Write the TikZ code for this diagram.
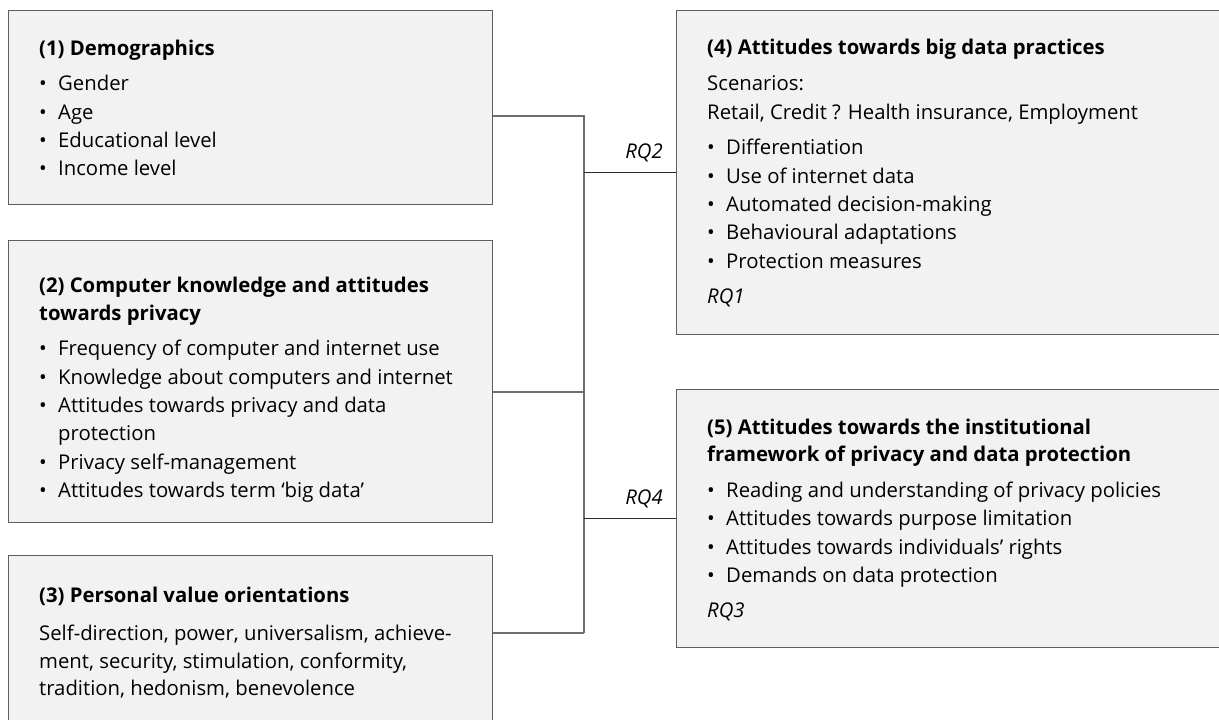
\documentclass[tikz,border=0pt]{standalone}
\usepackage{fontspec}
\setmainfont{Open Sans}
\definecolor{boxfill}{HTML}{F2F2F2}
\definecolor{boxline}{HTML}{5E5E5E}
\definecolor{conline}{HTML}{6E6E6E}
\definecolor{rqline}{HTML}{2A2A2A}
\tikzset{
  box/.style={draw=boxline, fill=boxfill, line width=1.3pt, inner sep=0pt, anchor=north west},
  txt/.style={anchor=base west, inner sep=0pt, font=\fontsize{20.3}{24}\selectfont},
  hdr/.style={txt, font=\fontsize{20.3}{24}\selectfont\bfseries},
  rq/.style={txt, font=\fontsize{20.3}{24}\selectfont\itshape},
  con/.style={draw=conline, line width=1.4pt},
  rqcon/.style={draw=rqline, line width=1pt},
}
\newcommand\bul[4]{% name, x, y, text
  \node[txt] (#1b) at (#2,#3) {•};
  \node[txt] (#1) at (#2+19,#3) {#4};}
\begin{document}
\begin{tikzpicture}[x=1pt,y=-1pt]
\useasboundingbox (0,0) rectangle (1219,720);
% boxes
\node[box, minimum width=484pt, minimum height=194pt] (b1) at (8,10) {};
\node[box, minimum width=484pt, minimum height=282pt] (b2) at (8,240) {};
\node[box, minimum width=484pt, minimum height=200pt] (b3) at (8,555) {};
\node[box, minimum width=600pt, minimum height=324pt] (b4) at (676,10) {};
\node[box, minimum width=600pt, minimum height=258pt] (b5) at (676,389) {};
% box 1
\node[hdr] (h1) at (39,55) {(1) Demographics};
\bul{a1}{39}{90}{Gender}
\bul{a2}{39}{119}{Age}
\bul{a3}{39}{147}{Educational level}
\bul{a4}{39}{175}{Income level}
% box 2
\node[hdr] (h2a) at (39,292) {(2) Computer knowledge and attitudes};
\node[hdr] (h2b) at (39,320) {towards privacy};
\bul{c1}{39}{355}{Frequency of computer and internet use}
\bul{c2}{39}{384}{Knowledge about computers and internet}
\bul{c3}{39}{412}{Attitudes towards privacy and data}
\node[txt] (c3x) at (58,440) {protection};
\bul{c4}{39}{469}{Privacy self-management}
\bul{c5}{39}{497}{Attitudes towards term ‘big data’}
% box 3
\node[hdr] (h3) at (39,602) {(3) Personal value orientations};
\node[txt] (d1) at (39,640) {Self-direction, power, universalism, achieve-};
\node[txt] (d2) at (39,668) {ment, security, stimulation, conformity,};
\node[txt] (d3) at (39,695) {tradition, hedonism, benevolence};
% box 4
\node[hdr] (h4) at (707,54) {(4) Attitudes towards big data practices};
\node[txt] (s1) at (707,90) {Scenarios:};
\node[txt] (s2) at (707,119) {Retail, Credit ? Health insurance, Employment};
\bul{e1}{707}{154}{Differentiation}
\bul{e2}{707}{183}{Use of internet data}
\bul{e3}{707}{211}{Automated decision-making}
\bul{e4}{707}{239}{Behavioural adaptations}
\bul{e5}{707}{268}{Protection measures}
\node[rq] (rq1) at (707,303) {RQ1};
% box 5
\node[hdr] (h5a) at (707,434) {(5) Attitudes towards the institutional};
\node[hdr] (h5b) at (707,461) {framework of privacy and data protection};
\bul{f1}{707}{497}{Reading and understanding of privacy policies}
\bul{f2}{707}{525}{Attitudes towards purpose limitation}
\bul{f3}{707}{554}{Attitudes towards individuals’ rights}
\bul{f4}{707}{582}{Demands on data protection}
\node[rq] (rq3) at (707,617) {RQ3};
% connectors
\coordinate (j1) at (584,116);
\coordinate (j2) at (584,392);
\coordinate (j3) at (584,633);
\coordinate (k4) at (584,172);
\coordinate (k5) at (584,518);
\draw[con] (b1.east |- j1) -- (j1) -- (j3);
\draw[con] (b2.east |- j2) -- (j2);
\draw[con] (b3.east |- j3) -- (j3);
\draw[rqcon] (k4) -- (b4.west |- k4);
\draw[rqcon] (k5) -- (b5.west |- k5);
\node[rq, anchor=base east] (rq2) at (663,158) {RQ2};
\node[rq, anchor=base east] (rq4) at (663,504) {RQ4};
\end{tikzpicture}
\end{document}
